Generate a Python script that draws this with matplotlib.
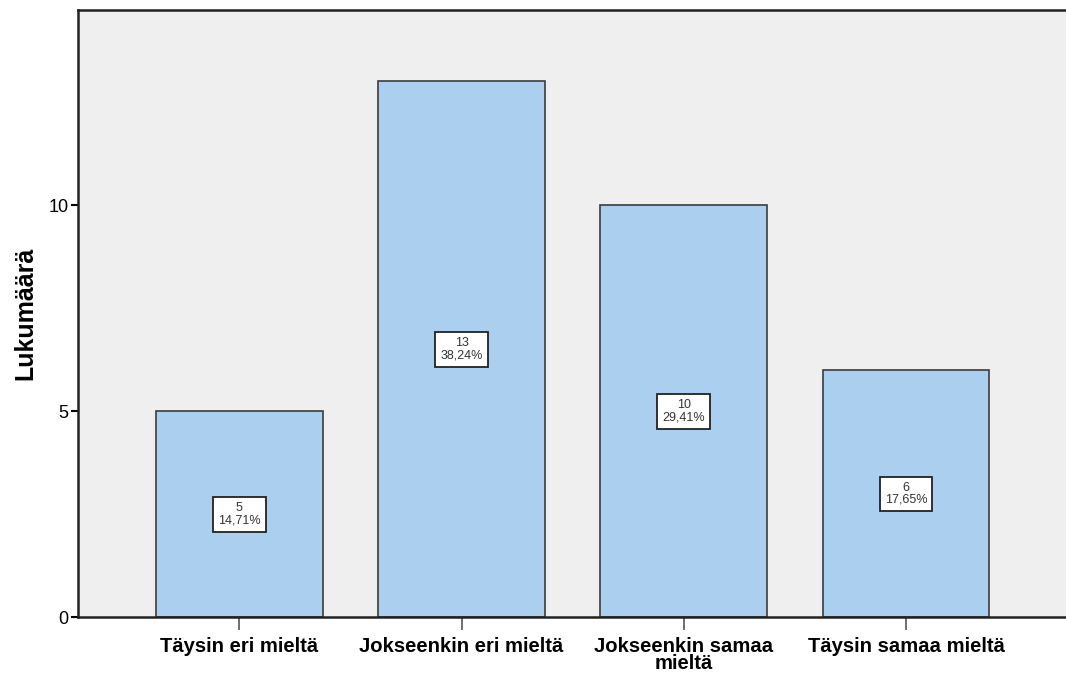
import numpy as np
import matplotlib.pyplot as plt

categories = ['Täysin eri mieltä', 'Jokseenkin eri mieltä', 'Jokseenkin samaa\nmieltä', 'Täysin samaa mieltä']
counts = [5, 13, 10, 6]
percents = ['14,71%', '38,24%', '29,41%', '17,65%']

plt.rcParams['font.family'] = ['Liberation Sans', 'DejaVu Sans']

fig = plt.figure(figsize=(10.66, 6.73), dpi=100)
ax = fig.add_axes([0.0732, 0.0825, 0.928, 0.9025])
ax.set_facecolor('#efefef')

x = np.arange(len(categories))
ax.bar(x, counts, width=0.75, color='#abcfee', edgecolor='#3c3c3c', linewidth=1.2, zorder=2)

for xi, c, p in zip(x, counts, percents):
    ax.text(xi, c / 2, '%d\n%s' % (c, p), ha='center', va='center', fontsize=9,
            color='#333333', linespacing=1.05, zorder=3,
            bbox=dict(boxstyle='square,pad=0.4', facecolor='white', edgecolor='#222222', linewidth=1.3))

ax.set_xlim(-0.725, 3.725)
ax.set_ylim(0, 14.73)
ax.set_yticks([0, 5, 10])
ax.set_xticks(x)
ax.set_xticklabels(categories, fontweight='bold', fontsize=14.6, linespacing=0.85)
ax.tick_params(axis='y', length=5, width=1.5, labelsize=13, pad=2)
ax.tick_params(axis='x', length=9, width=1.2, color='#555555', pad=5)
ax.set_ylabel('Lukumäärä', fontweight='bold', fontsize=18, labelpad=8)

for s in ['left', 'top', 'bottom']:
    ax.spines[s].set_linewidth(1.8)
    ax.spines[s].set_color('#222222')
ax.spines['right'].set_visible(False)

fig.savefig('out.png', dpi=100)
